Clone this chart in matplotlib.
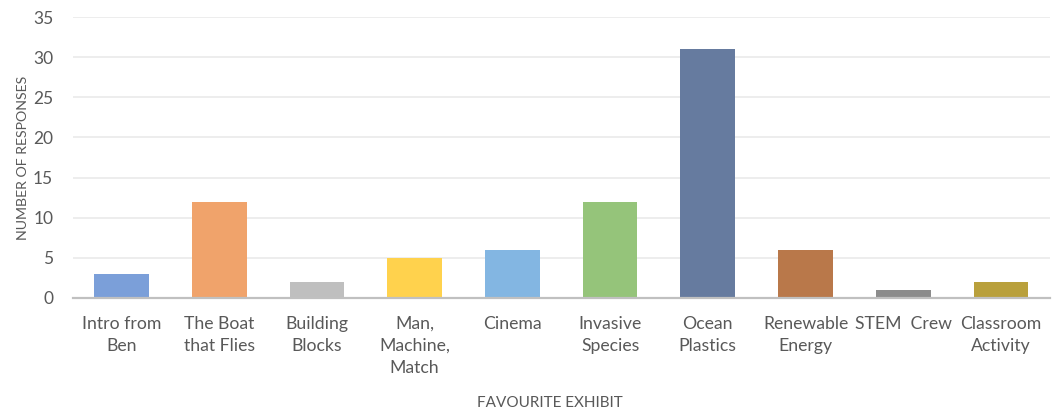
import numpy as np
import matplotlib.pyplot as plt

plt.rcParams['font.family'] = ['Lato', 'DejaVu Sans']

exhibits = ['Intro from\nBen', 'The Boat\nthat Flies', 'Building\nBlocks', 'Man,\nMachine,\nMatch',
            'Cinema', 'Invasive\nSpecies', 'Ocean\nPlastics', 'Renewable\nEnergy', 'STEM  Crew',
            'Classroom\nActivity']
responses = [3, 12, 2, 5, 6, 12, 31, 6, 1, 2]
colours = ['#7b9fd9', '#f0a36b', '#bfbfbf', '#ffd24d', '#83b6e2',
           '#95c47a', '#667b9f', '#b9784a', '#8c8c8c', '#b9a03c']

grey = '#595959'
fig = plt.figure(figsize=(10.52, 4.16), dpi=100)
ax = fig.add_axes([0.069, 0.284, 0.929, 0.675])

x = np.arange(len(exhibits))
ax.bar(x, responses, width=0.56, color=colours, zorder=2)

ax.set_xlim(-0.5, len(exhibits) - 0.5)
ax.set_ylim(0, 35)
ax.set_yticks(np.arange(0, 36, 5))
ax.set_xticks(x)
ax.set_xticklabels(exhibits, fontsize=12.7, color=grey, linespacing=1.45, va='top')
ax.tick_params(axis='y', labelsize=12.5, colors=grey, length=0, pad=14)
ax.tick_params(axis='x', length=0, pad=13)

ax.grid(axis='y', color='#ececec', linewidth=1.3, zorder=0)
for s in ['top', 'right', 'left']:
    ax.spines[s].set_visible(False)
ax.spines['bottom'].set_color('#c0c0c0')
ax.spines['bottom'].set_linewidth(1.6)
ax.spines['bottom'].set_zorder(3)

ax.set_ylabel('NUMBER OF RESPONSES', fontsize=10.2, color=grey, labelpad=3)
fig.text(0.523, 0.022, 'FAVOURITE EXHIBIT', ha='center', fontsize=11, color=grey)

fig.savefig('out.png', dpi=100)
